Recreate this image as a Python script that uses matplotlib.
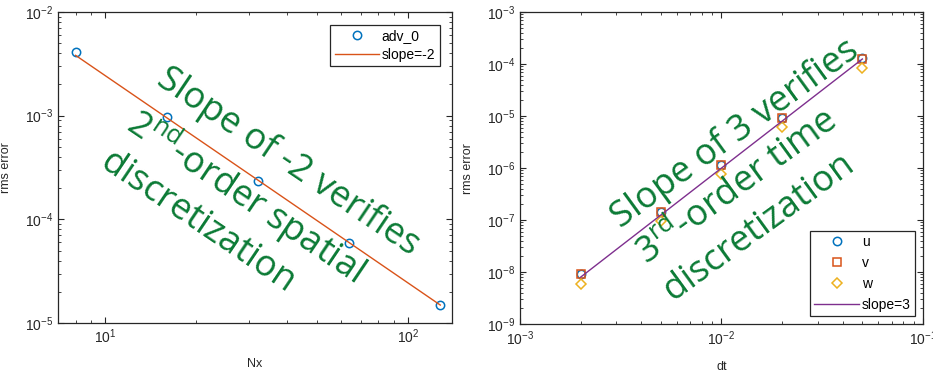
import matplotlib
matplotlib.use("Agg")
import matplotlib.pyplot as plt
import numpy as np

plt.rcParams['font.family'] = ['Liberation Sans', 'DejaVu Sans']
plt.rcParams['mathtext.fontset'] = 'custom'
plt.rcParams['mathtext.rm'] = 'Open Sans'
plt.rcParams['mathtext.it'] = 'Open Sans:italic'
plt.rcParams['mathtext.bf'] = 'Open Sans:bold'

# ---- data: spatial convergence ----
Nx = [8, 16, 32, 64, 128]
adv_0 = [4.07e-3, 9.7e-4, 2.36e-4, 5.96e-5, 1.49e-5]
slope_m2 = [3.82e-3, 9.55e-4, 2.39e-4, 5.97e-5, 1.49e-5]

# ---- data: temporal convergence ----
dt = [0.002, 0.005, 0.01, 0.02, 0.05]
err_u = [9.1e-9, 1.41e-7, 1.15e-6, 9.1e-6, 1.28e-4]
err_v = [9.1e-9, 1.40e-7, 1.13e-6, 9.0e-6, 1.27e-4]
err_w = [6.0e-9, 9.8e-8, 7.7e-7, 6.1e-6, 8.4e-5]
slope_3 = [8e-9, 1.25e-7, 1e-6, 8e-6, 1.25e-4]

BLUE = '#0072BD'
ORANGE = '#D95319'
YELLOW = '#EDB120'
PURPLE = '#7E2F8E'
GREEN = '#0B7A35'
AXC = '#262626'

fig = plt.figure(figsize=(9.33, 3.76), dpi=100)
ax1 = fig.add_axes([0.0622, 0.141, 0.4223, 0.827])
ax2 = fig.add_axes([0.5573, 0.138, 0.432, 0.830])

def style(ax):
    ax.set_xscale('log')
    ax.set_yscale('log')
    for s in ax.spines.values():
        s.set_color(AXC)
        s.set_linewidth(0.9)
    ax.tick_params(which='both', direction='in', top=True, right=True,
                   colors=AXC, labelcolor=AXC, labelsize=10)
    ax.tick_params(which='major', length=4)
    ax.tick_params(which='minor', length=2.5)

style(ax1)
ax1.plot(Nx, adv_0, 'o', mfc='none', mec=BLUE, ms=6, mew=1.1, label='adv_0')
ax1.plot(Nx, slope_m2, '-', color=ORANGE, lw=1, label='slope=-2')
ax1.set_xlim(7, 140)
ax1.set_ylim(1e-5, 1e-2)
ax1.set_xlabel('Nx', fontsize=9, color=AXC, labelpad=8)
ax1.set_ylabel('rms error', fontsize=9, color=AXC, labelpad=9)
leg1 = ax1.legend(loc='upper right', fontsize=10, fancybox=False, framealpha=1,
                  edgecolor=AXC, handlelength=3.2, borderaxespad=0.9,
                  borderpad=0.3, labelspacing=0.35, handletextpad=0.2)
leg1.get_frame().set_linewidth(0.9)

style(ax2)
ax2.plot(dt, err_u, 'o', mfc='none', mec=BLUE, ms=6, mew=1.1, label='u')
ax2.plot(dt, err_v, 's', mfc='none', mec=ORANGE, ms=6, mew=1.1, label='v')
ax2.plot(dt, err_w, 'D', mfc='none', mec=YELLOW, ms=5, mew=1.1, label='w')
ax2.plot(dt, slope_3, '-', color=PURPLE, lw=1, label='slope=3')
ax2.set_xlim(1e-3, 1e-1)
ax2.set_ylim(1e-9, 1e-3)
ax2.set_xlabel('dt', fontsize=9, color=AXC, labelpad=10)
ax2.set_ylabel('rms error', fontsize=9, color=AXC, labelpad=9)
leg2 = ax2.legend(loc='lower right', fontsize=10, fancybox=False, framealpha=1,
                  edgecolor=AXC, handlelength=3.2, borderaxespad=0.6,
                  borderpad=0.3, labelspacing=0.5, handletextpad=0.2)
leg2.get_frame().set_linewidth(0.9)

fig.text(132 / 933, 1 - 117 / 376,
         'Slope of -2 verifies\n2$^{\\mathrm{nd}}$-order spatial\ndiscretization',
         family='Open Sans', fontsize=26, color=GREEN, rotation=-34,
         ha='left', va='center', multialignment='left',
         rotation_mode='anchor', linespacing=1.3)
fig.text(641 / 933, 1 - 257 / 376,
         'Slope of 3 verifies\n3$^{\\mathrm{rd}}$-order time\ndiscretization',
         family='Open Sans', fontsize=26, color=GREEN, rotation=36,
         ha='left', va='center', multialignment='left',
         rotation_mode='anchor', linespacing=1.3)

fig.savefig('out.png', dpi=100)
